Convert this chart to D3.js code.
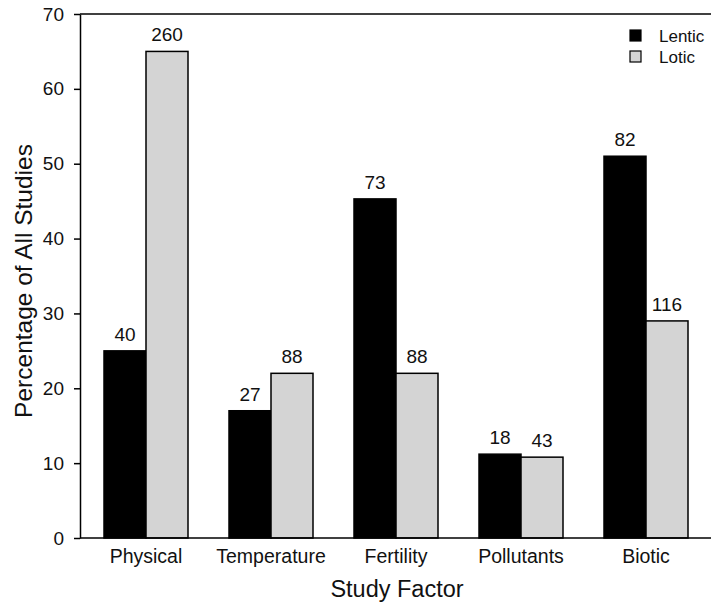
<!DOCTYPE html>
<html>
<head>
<meta charset="utf-8">
<script src="https://cdn.jsdelivr.net/npm/d3@7"></script>
<style>
  body { margin: 0; background: #fff; }
  svg { display: block; font-family: "Liberation Sans", Arial, sans-serif; }
</style>
</head>
<body>
<script>
// Data
const categories = ["Physical", "Temperature", "Fertility", "Pollutants", "Biotic"];
const series = ["Lentic", "Lotic"];
const lenticPct = [25, 17, 45.3, 11.2, 51];
const loticPct = [65, 22, 22, 10.8, 29];
const lenticN = [40, 27, 73, 18, 82];
const loticN = [260, 88, 88, 43, 116];
const yTicks = [0, 10, 20, 30, 40, 50, 60, 70];

const width = 711, height = 607;
const colors = { Lentic: "#000", Lotic: "#d4d4d4" };
const font = "Liberation Sans, Arial, sans-serif";

const svg = d3.select("body").append("svg")
  .attr("width", width)
  .attr("height", height);

const y = d3.scaleLinear().domain([0, 70]).range([538, 14]);

const x = d3.scaleBand()
  .domain(categories)
  .range([83.5, 708.5])
  .padding(0);

const xs = d3.scaleBand()
  .domain(series)
  .range([0, 84]);

const rows = categories.map((c, i) => ({
  cat: c,
  vals: [
    { s: "Lentic", v: lenticPct[i], n: lenticN[i] },
    { s: "Lotic", v: loticPct[i], n: loticN[i] }
  ]
}));

// bars
const g = svg.append("g")
  .selectAll("g")
  .data(rows)
  .join("g")
  .attr("transform", d => `translate(${x(d.cat) + x.bandwidth() / 2 - 42},0)`);

g.selectAll("rect")
  .data(d => d.vals)
  .join("rect")
  .attr("x", d => xs(d.s))
  .attr("y", d => y(d.v))
  .attr("width", xs.bandwidth())
  .attr("height", d => y(0) - y(d.v))
  .attr("fill", d => colors[d.s])
  .attr("stroke", "#000")
  .attr("stroke-width", 1.5);

g.selectAll("text")
  .data(d => d.vals)
  .join("text")
  .attr("x", d => xs(d.s) + xs.bandwidth() / 2)
  .attr("y", d => y(d.v) - 10)
  .attr("text-anchor", "middle")
  .attr("font-size", 19)
  .attr("fill", "#111")
  .text(d => d.n);

// y axis
const yAxis = svg.append("g")
  .attr("transform", "translate(80,0)")
  .call(d3.axisLeft(y).tickValues(yTicks).tickSize(6).tickPadding(10).tickSizeOuter(0));
yAxis.select(".domain").attr("stroke-width", 1.5);
yAxis.selectAll(".tick line").attr("stroke-width", 1.5);
yAxis.selectAll("text")
  .attr("font-size", 19)
  .attr("font-family", font)
  .attr("fill", "#111");

// x axis (no ticks)
const xAxis = svg.append("g")
  .attr("transform", "translate(0,538)")
  .call(d3.axisBottom(x).tickSize(0).tickPadding(11).tickSizeOuter(0));
xAxis.select(".domain").attr("d", "M80,0H711").attr("stroke-width", 1.5);
xAxis.selectAll("text")
  .attr("font-size", 19.5)
  .attr("font-family", font)
  .attr("fill", "#111");

// top frame line
svg.append("line")
  .attr("x1", 80).attr("x2", 711)
  .attr("y1", y(70)).attr("y2", y(70))
  .attr("stroke", "#000").attr("stroke-width", 1.5);

// axis titles
svg.append("text")
  .attr("x", 397)
  .attr("y", 597)
  .attr("text-anchor", "middle")
  .attr("font-size", 23.5)
  .attr("fill", "#111")
  .text("Study Factor");

svg.append("text")
  .attr("transform", "translate(32,281) rotate(-90)")
  .attr("text-anchor", "middle")
  .attr("font-size", 24.5)
  .attr("fill", "#111")
  .text("Percentage of All Studies");

// legend
const legend = svg.append("g")
  .selectAll("g")
  .data(series)
  .join("g")
  .attr("transform", (d, i) => `translate(630,${30 + i * 21})`);

legend.append("rect")
  .attr("width", 11).attr("height", 11)
  .attr("fill", d => colors[d])
  .attr("stroke", "#000").attr("stroke-width", 1.2);

legend.append("text")
  .attr("x", 29).attr("y", 12)
  .attr("font-size", 17)
  .attr("fill", "#111")
  .text(d => d);
</script>
</body>
</html>
